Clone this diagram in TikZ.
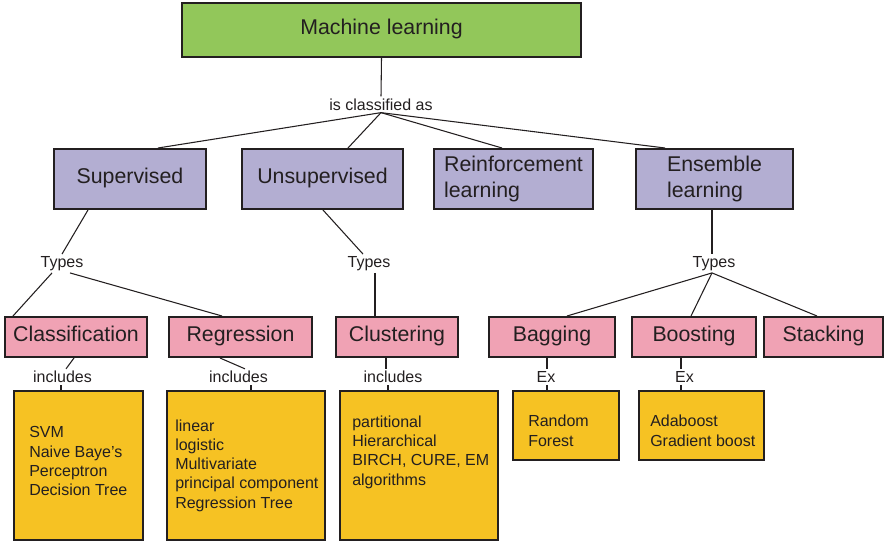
\documentclass[tikz,border=0pt]{standalone}
\usepackage{fontspec}
\setmainfont{Liberation Sans}
\usetikzlibrary{calc}
\definecolor{inkc}{HTML}{231F20}
\definecolor{mlgreen}{HTML}{92C75A}
\definecolor{lav}{HTML}{B3AED2}
\definecolor{pinkc}{HTML}{F0A2B4}
\definecolor{yelc}{HTML}{F6C223}
\begin{document}
\begin{tikzpicture}[x=0.75pt,y=-0.75pt,
  every node/.style={text=inkc},
  boxbase/.style={draw=inkc,line width=1.5pt,inner sep=0pt,font=\fontsize{16}{19.5}\selectfont},
  oneline/.style={text height=11.5pt,text depth=4.5pt},
  rootbox/.style={boxbase,oneline,fill=mlgreen,minimum height=40.5pt},
  catbox/.style={boxbase,fill=lav,minimum height=45pt,align=left},
  typebox/.style={boxbase,oneline,fill=pinkc,minimum height=30pt},
  listbox/.style={draw=inkc,line width=1.5pt,fill=yelc,inner sep=0pt},
  listtext/.style={inner sep=0pt,align=left,anchor=base west,font=\fontsize{12}{14.4}\selectfont},
  lbl/.style={inner sep=1.5pt,font=\fontsize{12}{14}\selectfont},
  link/.style={draw=inkc,line width=0.8pt}]
\useasboundingbox (0,0) rectangle (884,541);

% root and learning categories
\node[rootbox,minimum width=299.25pt] (ml) at (381.5,30) {Machine learning};
\node[lbl] (isc) at (381,104.5) {is classified as};
\node[catbox,oneline,minimum width=114pt] (sup) at (130,179) {Supervised};
\node[catbox,oneline,minimum width=120.75pt] (uns) at (322.5,179) {Unsupervised};
\node[catbox,minimum width=119.25pt] (rei) at (513.5,179) {Reinforcement\\learning};
\node[catbox,minimum width=117.75pt] (ens) at (714.5,179) {Ensemble\\learning};

% "Types" labels
\node[lbl] (ty1) at (62,263.5) {Types};
\node[lbl] (ty2) at (369,263.5) {Types};
\node[lbl] (ty3) at (714,263.5) {Types};

% sub-types
\node[typebox,minimum width=106.5pt] (cls) at (76,337) {Classification};
\node[typebox,minimum width=107.25pt] (reg) at (240.5,337) {Regression};
\node[typebox,minimum width=91.5pt] (clu) at (397,337) {Clustering};
\node[typebox,minimum width=94.5pt] (bag) at (552,337) {Bagging};
\node[typebox,minimum width=93pt] (boo) at (694,337) {Boosting};
\node[typebox,minimum width=89.25pt] (sta) at (823.5,337) {Stacking};

% "includes" / "Ex" labels
\node[lbl] (inc1) at (62.5,377) {includes};
\node[lbl] (inc2) at (238.5,377) {includes};
\node[lbl] (inc3) at (393,377) {includes};
\node[lbl] (ex1) at (546,377) {Ex};
\node[lbl] (ex2) at (684.5,377) {Ex};

% example lists
\node[listbox,minimum width=96.75pt,minimum height=111.75pt] (ycls) at (78.5,465.5) {};
\node[listbox,minimum width=118.5pt,minimum height=111.75pt] (yreg) at (246,465.5) {};
\node[listbox,minimum width=118.5pt,minimum height=111.75pt] (yclu) at (419,465.5) {};
\node[listbox,minimum width=79.5pt,minimum height=51.75pt] (ybag) at (566,425.5) {};
\node[listbox,minimum width=93.75pt,minimum height=51.75pt] (yboo) at (701.5,425.5) {};

% list texts, placed by the baseline of their last line
\node[listtext] (tcls) at (29,495.5) {SVM\\Naive Baye’s\\Perceptron\\Decision Tree};
\node[listtext] (treg) at (175,508) {linear\\logistic\\Multivariate\\principal component\\Regression Tree};
\node[listtext] (tclu) at (352,485) {partitional\\Hierarchical\\BIRCH, CURE, EM\\algorithms};
\node[listtext] (tbag) at (528,446) {Random\\Forest};
\node[listtext] (tboo) at (650,446) {Adaboost\\Gradient boost};

% connectors
\draw[link] (ml.south) -- (isc.north);
\draw[link] (isc.south) -- ($(sup.north)+(28,0)$);
\draw[link] (isc.south) -- ($(uns.north)+(25.5,0)$);
\draw[link] (isc.south) -- ($(rei.north)+(-11.5,0)$);
\draw[link] (isc.south) -- ($(ens.north)+(-49.5,0)$);

\draw[link] ($(sup.south)+(-42,0)$) -- (ty1.north);
\draw[link] ($(ty1.south)+(-10,0)$) -- ($(cls.north west)+(9,0)$);
\draw[link] ($(ty1.south)+(8,0)$) -- ($(reg.north)+(-18.5,0)$);

\draw[link] ($(uns.south)+(0.5,0)$) -- ($(ty2.north)+(-6,0)$);
\draw[link] ($(ty2.south)+(6,0)$) -- ($(clu.north)+(-22,0)$);

\draw[link] ($(ens.south)+(-2.5,0)$) -- ($(ty3.north)+(-2,0)$);
\draw[link] ($(ty3.south)+(-2,0)$) -- ($(bag.north)+(15,0)$);
\draw[link] ($(ty3.south)+(-2,0)$) -- ($(boo.north)+(-3,0)$);
\draw[link] ($(ty3.south)+(-2,0)$) -- ($(sta.north)+(-6.5,0)$);

\draw[link] ($(cls.south)+(-2,0)$) -- ($(inc1.north)+(3.5,0)$);
\draw[link] ($(inc1.south)+(-1.5,0)$) -- ($(ycls.north)+(-17.5,0)$);
\draw[link] ($(reg.south)+(-20.5,0)$) -- ($(inc2.north)+(6.5,0)$);
\draw[link] ($(inc2.south)+(12.5,0)$) -- ($(yreg.north)+(5,0)$);
\draw[link] ($(clu.south)+(-11,0)$) -- ($(inc3.north)+(-7,0)$);
\draw[link] ($(inc3.south)+(-5,0)$) -- ($(yclu.north)+(-31,0)$);
\draw[link] ($(bag.south)+(-5,0)$) -- ($(ex1.north)+(1,0)$);
\draw[link] ($(ex1.south)+(1,0)$) -- ($(ybag.north)+(-19,0)$);
\draw[link] ($(boo.south)+(-13,0)$) -- ($(ex2.north)+(-3.5,0)$);
\draw[link] ($(ex2.south)+(-3.5,0)$) -- ($(yboo.north)+(-20.5,0)$);
\end{tikzpicture}
\end{document}
